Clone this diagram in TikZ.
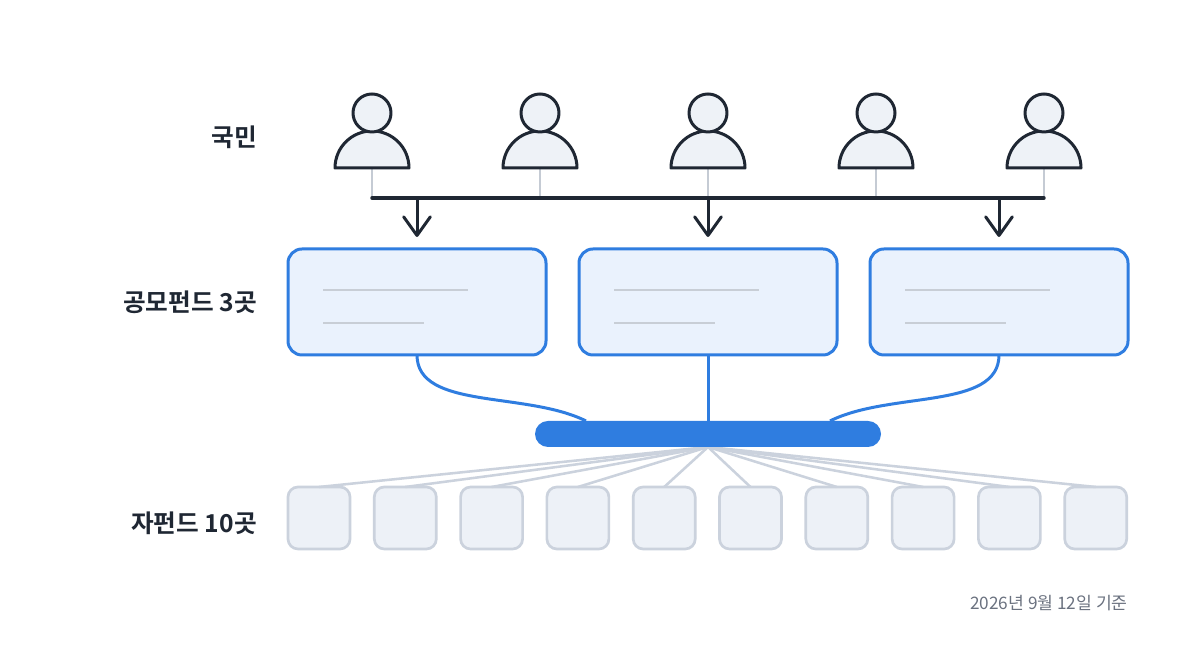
\documentclass[tikz,border=0pt]{standalone}
\usepackage{fontspec}
\newfontfamily\krb{Noto Sans CJK KR Bold}
\newfontfamily\kr{Noto Sans CJK KR}
\usetikzlibrary{arrows.meta,calc}
\definecolor{ink}{HTML}{1F2733}
\definecolor{brand}{HTML}{2F7DE0}
\definecolor{boxfill}{HTML}{EAF2FD}
\definecolor{sfill}{HTML}{EDF1F7}
\definecolor{sline}{HTML}{CBD2DD}
\definecolor{pfill}{HTML}{EEF2F7}
\definecolor{stemc}{HTML}{C5CBD4}
\definecolor{innerc}{HTML}{C8CED6}
\definecolor{datec}{HTML}{6B7280}
\tikzset{
  person/.style={draw=ink, fill=pfill, line width=2.25pt, line join=round},
  stem/.style={draw=stemc, line width=1.9pt},
  bus/.style={draw=ink, line width=2.6pt, line cap=round},
  arr/.style={draw=ink, line width=2.25pt, -{Straight Barb[length=14pt,width=20pt,line join=round,line cap=round]}},
  bigbox/.style={draw=brand, fill=boxfill, line width=2.25pt, rounded corners=10.5pt, minimum width=193.5pt, minimum height=79.5pt, inner sep=0pt, outer sep=0pt},
  innerln/.style={draw=innerc, line width=1.9pt},
  link/.style={draw=brand, line width=2.25pt},
  barbox/.style={fill=brand, rounded corners=9.75pt, minimum width=259.5pt, minimum height=19.5pt, inner sep=0pt, outer sep=0pt},
  smallbox/.style={draw=sline, fill=sfill, line width=2pt, rounded corners=7.5pt, minimum width=46.5pt, minimum height=46.5pt, inner sep=0pt, outer sep=0pt},
  fan/.style={draw=sline, line width=1.9pt},
  lab/.style={font=\krb\fontsize{18.5}{22}\selectfont, text=ink, anchor=east, inner sep=0pt},
  datelab/.style={font=\kr\fontsize{12.9}{15}\selectfont, text=datec, anchor=east, inner sep=0pt}
}
\begin{document}
\begin{tikzpicture}[x=0.75pt,y=0.75pt]
\useasboundingbox (0,0) rectangle (1200,655);
\fill[white] (0,0) rectangle (1200,655);
% persons
\foreach \i/\x in {1/372,2/540,3/708,4/876,5/1044}{
  \coordinate (p\i) at (\x,487);
  \coordinate (s\i) at (\x,457);
  \draw[stem] (p\i) -- (s\i);
  \draw[person] (\x-37,487) arc[start angle=180,end angle=0,radius=37] -- cycle;
  \draw[person] (\x,542) circle[radius=19];
}
\draw[bus] (s1) -- (s5);
% boxes
\node[bigbox] (b1) at (417,353) {};
\node[bigbox] (b2) at (708,353) {};
\node[bigbox] (b3) at (999,353) {};
\foreach \b in {b1,b2,b3}{
  \draw[innerln] ($(\b.north west)+(35,-41)$) -- ++(145,0);
  \draw[innerln] ($(\b.north west)+(35,-74)$) -- ++(101,0);
  \coordinate (a\b) at (\b.north |- s1);
  \draw[arr] (a\b) -- ($(\b.north)+(0,12)$);
}
% fan
\coordinate (barS) at (708,208);
\foreach \i in {1,...,10}{
  \node[smallbox] (c\i) at ({319+(\i-1)*86.3},137) {};
  \draw[fan] (barS) -- (c\i.north);
}
% bar
\node[barbox] (bar) at (708,221) {};
\draw[link] (b2.south) -- (bar.north);
\draw[link] (b1.south) .. controls +(0,-55) and +(-60,30) .. ($(bar.north west)+(51,0)$);
\draw[link] (b3.south) .. controls +(0,-55) and +(60,30) .. ($(bar.north east)+(-51,0)$);
% labels
\node[lab] (l1) at (257,518) {국민};
\node[lab] (l2) at (257,353) {공모펀드 3곳};
\node[lab] (l3) at (257,132) {자펀드 10곳};
\node[datelab] (dt) at (1128,52) {2026년 9월 12일 기준};
\end{tikzpicture}
\end{document}
